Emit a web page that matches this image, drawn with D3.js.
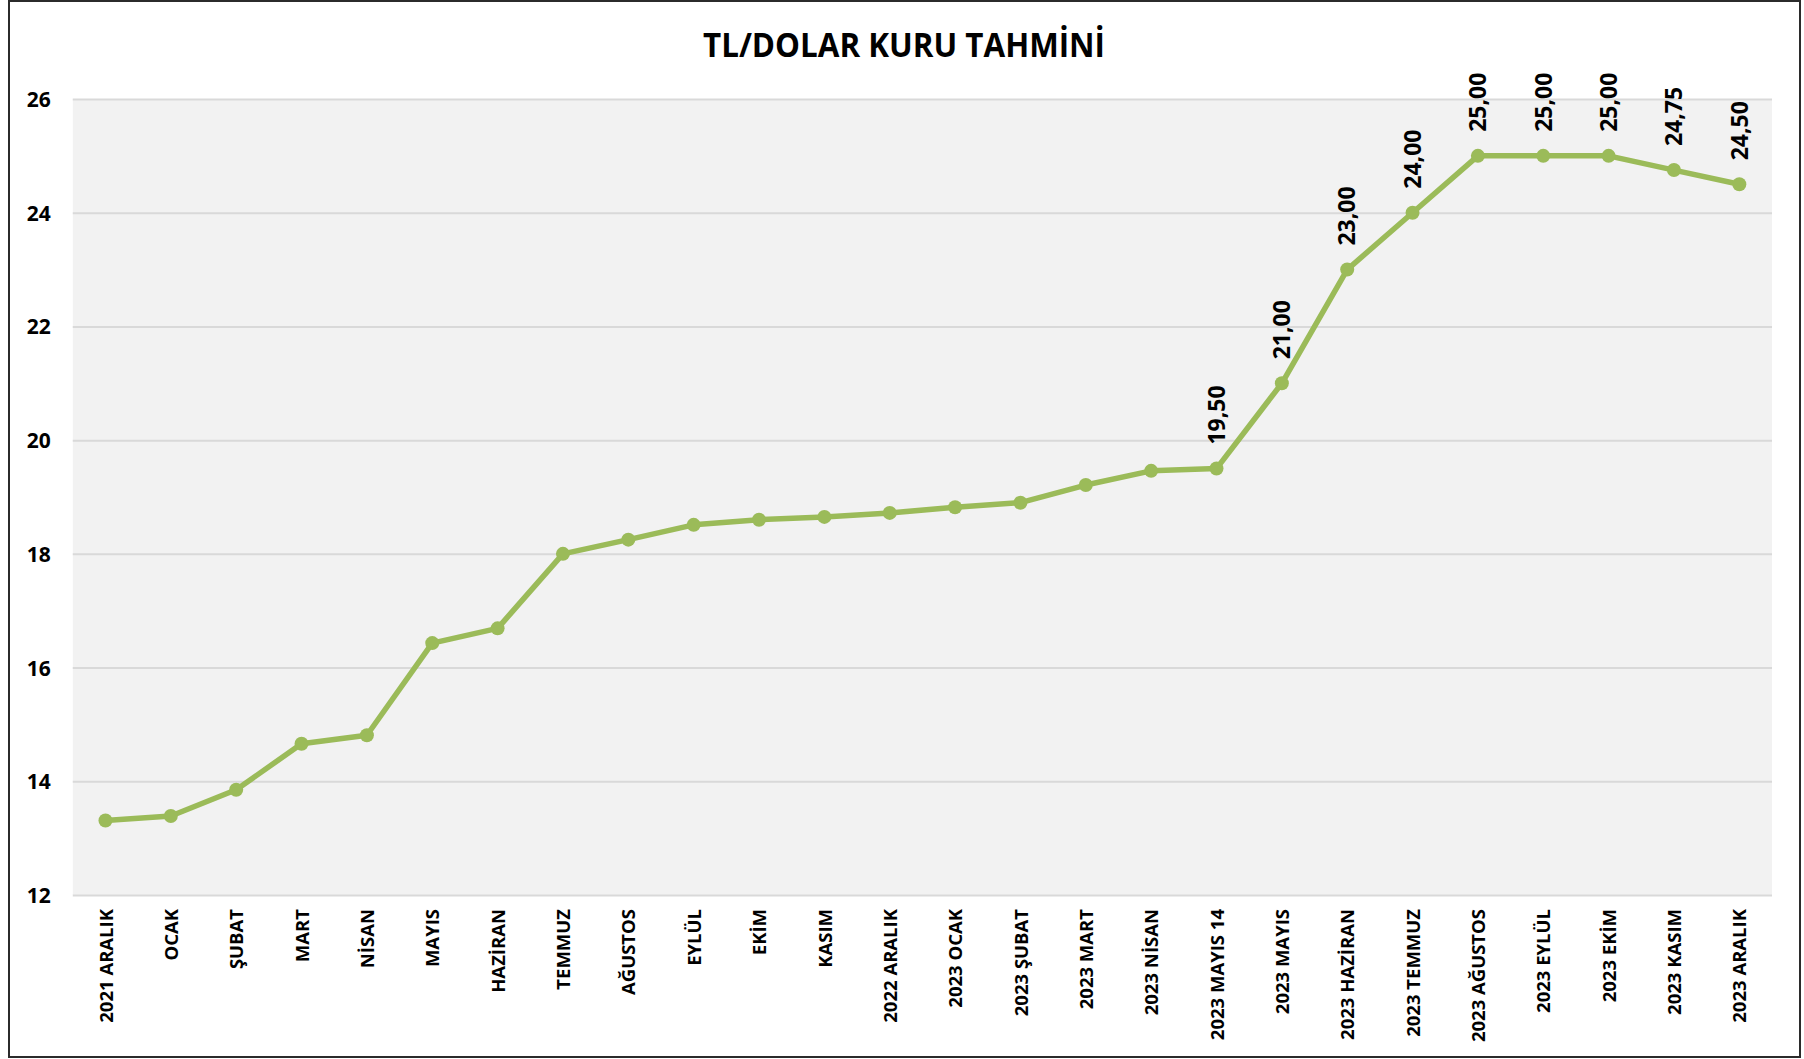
<!DOCTYPE html>
<html>
<head>
<meta charset="utf-8">
<script src="https://cdn.jsdelivr.net/npm/d3@7"></script>
<style>
  html, body { margin: 0; padding: 0; background: #ffffff; }
  svg { display: block; }
</style>
</head>
<body>
<svg id="chart" width="1804" height="1059"></svg>
<script>
const categories = [
  "2021 ARALIK", "OCAK", "ŞUBAT", "MART", "NİSAN", "MAYIS", "HAZİRAN", "TEMMUZ",
  "AĞUSTOS", "EYLÜL", "EKİM", "KASIM", "2022 ARALIK", "2023 OCAK", "2023 ŞUBAT",
  "2023 MART", "2023 NİSAN", "2023 MAYIS 14", "2023 MAYIS", "2023 HAZİRAN",
  "2023 TEMMUZ", "2023 AĞUSTOS", "2023 EYLÜL", "2023 EKİM", "2023 KASIM", "2023 ARALIK"
];
const values = [
  13.31, 13.39, 13.85, 14.66, 14.81, 16.43, 16.69, 18.00,
  18.25, 18.51, 18.60, 18.65, 18.72, 18.82, 18.90,
  19.21, 19.46, 19.50, 21.00, 23.00,
  24.00, 25.00, 25.00, 25.00, 24.75, 24.50
];
const labelled = [
  false, false, false, false, false, false, false, false,
  false, false, false, false, false, false, false,
  false, false, true, true, true,
  true, true, true, true, true, true
];
const yTicks = [12, 14, 16, 18, 20, 22, 24, 26];
const title = "TL/DOLAR KURU TAHMİNİ";

const W = 1804, H = 1059;
const plot = { left: 72.8, right: 1772, top: 99, bottom: 895 };
const green = "#9BBB59";
const FONT = "'Open Sans', 'DejaVu Sans', sans-serif";

const svg = d3.select("#chart");

// outer border
svg.append("rect")
  .attr("x", 9).attr("y", 1).attr("width", 1791).attr("height", 1056)
  .attr("fill", "#ffffff").attr("stroke", "#2b2b2b").attr("stroke-width", 2);

const x = d3.scalePoint().domain(categories).range([plot.left, plot.right]).padding(0.5);
const y = d3.scaleLinear().domain([12, 26]).range([plot.bottom, plot.top]);

// plot background
svg.append("rect")
  .attr("x", plot.left).attr("y", plot.top)
  .attr("width", plot.right - plot.left).attr("height", plot.bottom - plot.top)
  .attr("fill", "#F2F2F2");

// title
svg.append("text")
  .attr("x", 904).attr("y", 57)
  .attr("text-anchor", "middle")
  .attr("font-family", FONT).attr("font-weight", 700).attr("font-size", 34)
  .attr("textLength", 402).attr("lengthAdjust", "spacingAndGlyphs")
  .attr("fill", "#000")
  .text(title);

// y axis with gridlines
const yAxis = svg.append("g")
  .attr("transform", `translate(${plot.left},0)`)
  .call(d3.axisLeft(y).tickValues(yTicks).tickSize(-(plot.right - plot.left)).tickPadding(22));
yAxis.select(".domain").remove();
yAxis.selectAll(".tick line").attr("stroke", "#D9D9D9").attr("stroke-width", 2);
yAxis.selectAll(".tick text")
  .attr("font-family", FONT).attr("font-weight", 700).attr("font-size", 21)
  .attr("fill", "#000").attr("dy", "0.36em");

// x axis
const xAxis = svg.append("g")
  .attr("transform", `translate(0,${plot.bottom})`)
  .call(d3.axisBottom(x).tickSize(0).tickPadding(0));
xAxis.select(".domain").remove();
xAxis.selectAll(".tick text")
  .attr("y", 0).attr("x", 0).attr("dy", "0.36em")
  .attr("transform", "translate(0,14) rotate(-90)")
  .style("text-anchor", "end")
  .attr("font-family", FONT).attr("font-weight", 700).attr("font-size", 18.5)
  .attr("fill", "#000");

// line
const pts = categories.map((c, i) => ({ c, v: values[i], show: labelled[i] }));
svg.append("path")
  .datum(pts)
  .attr("fill", "none")
  .attr("stroke", green)
  .attr("stroke-width", 5.5)
  .attr("stroke-linejoin", "round")
  .attr("d", d3.line().x(d => x(d.c)).y(d => y(d.v)));

// markers
svg.append("g").selectAll("circle")
  .data(pts).join("circle")
  .attr("cx", d => x(d.c)).attr("cy", d => y(d.v))
  .attr("r", 7).attr("fill", green);

// data labels
const fmt = v => d3.format(".2f")(v).replace(".", ",");
svg.append("g").selectAll("text")
  .data(pts.filter(d => d.show)).join("text")
  .attr("transform", d => `translate(${x(d.c)},${y(d.v) - 24}) rotate(-90)`)
  .attr("dy", "0.36em")
  .attr("text-anchor", "start")
  .attr("font-family", FONT).attr("font-weight", 700).attr("font-size", 23)
  .attr("fill", "#000")
  .text(d => fmt(d.v));
</script>
</body>
</html>
